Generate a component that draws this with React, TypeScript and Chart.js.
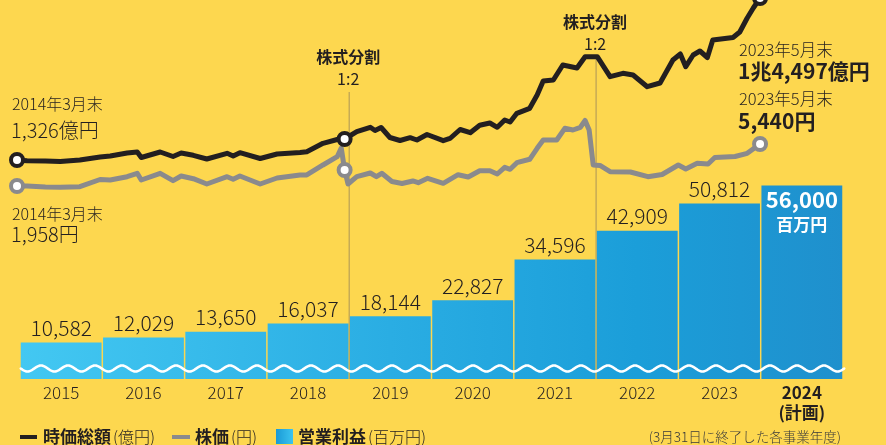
import React, { useEffect, useRef } from 'react';
import { Chart, registerables } from 'chart.js';

Chart.register(...registerables);

// ---------- DATA ----------
const fiscalYears: (string | string[])[] = ['2015', '2016', '2017', '2018', '2019', '2020', '2021', '2022', '2023', ['2024', '(計画)']];
const operatingProfit = [10582, 12029, 13650, 16037, 18144, 22827, 34596, 42909, 50812, 56000]; // 百万円

// months elapsed since 2014年3月末
const capMonths = [0, 1.5, 4.2, 6.4, 9.3, 12.3, 13.8, 16.3, 17.8, 18.4, 21.2, 23.1, 24.3, 26.1, 28.1, 31.1, 32, 33, 36, 38.5, 41.9, 42.9, 45.3, 47.4, 48.5, 50.3, 52.3, 53, 53.9, 55.2, 56.7, 58.2, 59.2, 60.7, 63.1, 64.1, 65.6, 67.1, 68.5, 70, 71.1, 72.2, 73, 74, 75.9, 77, 77.9, 79.4, 80.8, 82.9, 84.1, 85.9, 87.8, 89.7, 91.2, 93.3, 95.2, 97.1, 98.2, 99, 100.1, 101.1, 102.2, 103, 106, 107, 108.1, 109, 110];
const capValues = [1326, 1269, 1245, 1204, 1326, 1570, 1651, 1895, 1976, 1529, 1976, 1611, 1895, 1708, 1407, 1871, 1651, 1919, 1448, 1814, 1936, 2001, 2684, 2993, 3033, 3627, 3985, 3724, 3968, 3155, 2911, 3139, 2952, 3399, 2895, 3074, 3806, 3546, 4147, 4334, 3985, 4578, 4415, 5123, 5529, 6610, 7749, 7830, 9050, 8806, 9724, 9724, 8098, 8375, 8237, 7285, 7586, 9456, 9944, 8911, 9862, 10188, 9659, 11082, 11285, 11732, 12871, 13684, 14497]; // 億円

const priceMonths = [0, 1.5, 4.2, 6.4, 9.3, 12.3, 13.8, 16.3, 17.8, 18.4, 21.2, 23.1, 24.3, 26.1, 28.1, 31.1, 32, 33, 36, 38.5, 41.9, 42.9, 45.3, 47.4, 48, 48.5, 49, 50.3, 52.3, 53.2, 54, 55.5, 57, 58.6, 59.4, 60.8, 63.1, 65.3, 66.8, 68.5, 70, 71.1, 72.2, 73, 74, 75.9, 77, 77.9, 79.9, 81.1, 82.3, 83.4, 84.1, 84.7, 85.3, 86.3, 87.8, 90.8, 93.4, 95.5, 97.9, 99, 100.7, 102.3, 103.3, 106.3, 108.1, 110];
const priceValues = [1958, 1958, 1875, 1850, 1900, 2497, 2456, 2729, 3011, 2456, 3011, 2397, 2787, 2563, 2124, 2729, 2514, 2787, 2124, 2621, 2870, 2870, 3699, 4387, 5108, 3284, 2124, 2729, 3036, 2729, 3011, 2331, 2165, 2373, 2232, 2596, 2182, 2895, 2704, 3226, 3226, 2953, 3508, 3343, 3890, 4172, 5083, 5771, 5771, 6741, 6600, 6824, 7388, 6600, 3699, 3658, 3144, 3119, 2729, 2911, 3699, 3367, 3840, 3782, 4321, 4404, 4669, 5440]; // 円

const capMarkerMonths = [0, 48.5, 110];
const priceMarkerMonths = [0, 48.5, 110];
const splitAfterIndex = [3, 6]; // split between these fiscal-year bars and the next

// ---------- STYLE ----------
const JP = "'Noto Sans CJK JP', 'Noto Sans', sans-serif";
const BG = '#FDD74F';
const INK = '#231F20';
const GRAY = '#8A8A8D';

function txt(ctx: CanvasRenderingContext2D, s: string, x: number, y: number, size: number, weight: string, color: string, align: CanvasTextAlign = 'left') {
  ctx.font = `${weight} ${size}px ${JP}`;
  ctx.fillStyle = color;
  ctx.textAlign = align;
  ctx.textBaseline = 'middle';
  ctx.fillText(s, x, y);
  return ctx.measureText(s).width;
}

function barGradient(ctx: CanvasRenderingContext2D, x0: number, x1: number) {
  const g = ctx.createLinearGradient(x0, 0, x1, 0);
  g.addColorStop(0, '#43C8F2');
  g.addColorStop(0.45, '#2AADE3');
  g.addColorStop(0.75, '#1B9ED9');
  g.addColorStop(1, '#1F90CD');
  return g;
}

const decoPlugin = {
  id: 'deco',
  beforeDatasetsDraw(chart: any) {
    const { ctx, scales } = chart;
    const x = scales.x;
    const tops = [92, 57];
    ctx.save();
    ctx.strokeStyle = '#B9A056';
    ctx.lineWidth = 1.2;
    splitAfterIndex.forEach((i, k) => {
      const px = (x.getPixelForValue(i) + x.getPixelForValue(i + 1)) / 2;
      ctx.beginPath();
      ctx.moveTo(px, tops[k]);
      ctx.lineTo(px, chart.chartArea.bottom);
      ctx.stroke();
      txt(ctx, '株式分割', px - 1, tops[k] - 35, 16, 'bold', INK, 'center');
      txt(ctx, '1:2', px - 1, tops[k] - 13, 16, 'normal', INK, 'center');
    });
    ctx.restore();
  },
  afterDatasetsDraw(chart: any) {
    const { ctx, chartArea } = chart;
    const meta = chart.getDatasetMeta(2);
    const bars = meta.data;
    ctx.save();
    // wave
    const first = bars[0];
    const last = bars[bars.length - 1];
    const left = first.x - first.width / 2;
    const right = last.x + last.width / 2 + 2;
    const y0 = chartArea.bottom - 10.5;
    ctx.beginPath();
    for (let px = left; px <= right; px += 0.5) {
      const y = y0 + 3 * Math.sin(((px - left) / 27) * Math.PI * 2);
      if (px === left) ctx.moveTo(px, y); else ctx.lineTo(px, y);
    }
    ctx.strokeStyle = '#FFFFFF';
    ctx.lineWidth = 2.6;
    ctx.lineCap = 'round';
    ctx.stroke();

    // bar value labels
    bars.forEach((el: any, i: number) => {
      const v = operatingProfit[i].toLocaleString('en-US');
      if (i === bars.length - 1) {
        txt(ctx, v, el.x, el.y + 14.5, 22, 'bold', '#FFFFFF', 'center');
        txt(ctx, '百万円', el.x, el.y + 39.5, 17, 'bold', '#FFFFFF', 'center');
      } else {
        ctx.font = `300 21px ${JP}`;
        ctx.fillStyle = INK;
        ctx.textAlign = 'center';
        ctx.textBaseline = 'alphabetic';
        ctx.fillText(v, el.x, el.y - 6.5);
      }
    });

    // annotations
    txt(ctx, '2014年3月末', 12, 103.5, 16, '300', INK);
    txt(ctx, '1,326億円', 11, 130, 20, '300', INK);
    txt(ctx, '2014年3月末', 12, 213.5, 16, '300', INK);
    txt(ctx, '1,958円', 11, 234, 20, '300', INK);
    txt(ctx, '2023年5月末', 739, 49.5, 16.5, '300', INK);
    txt(ctx, '1兆4,497億円', 738, 71, 21, 'bold', INK);
    txt(ctx, '2023年5月末', 739, 98.5, 16.5, '300', INK);
    txt(ctx, '5,440円', 738, 121, 21, 'bold', INK);

    // legend
    const ly = 437;
    ctx.fillStyle = INK;
    ctx.fillRect(20, ly - 2, 17, 4);
    let w = txt(ctx, '時価総額', 43, ly, 17, 'bold', INK);
    txt(ctx, '(億円)', 43 + w + 2, ly, 16, '300', INK);
    ctx.fillStyle = GRAY;
    ctx.fillRect(172, ly - 2, 18, 4);
    w = txt(ctx, '株価', 195, ly, 17, 'bold', INK);
    txt(ctx, '(円)', 195 + w + 2, ly, 16, '300', INK);
    const sq = ctx.createLinearGradient(276, 0, 293, 0);
    sq.addColorStop(0, '#1A9AD6');
    sq.addColorStop(1, '#3CC4F0');
    ctx.fillStyle = sq;
    ctx.fillRect(276, ly - 8, 17, 15);
    w = txt(ctx, '営業利益', 298, ly, 17, 'bold', INK);
    txt(ctx, '(百万円)', 298 + w + 2, ly, 16, '300', INK);
    txt(ctx, '(3月31日に終了した各事業年度)', 841, ly, 13.5, '300', '#3a3a3a', 'right');
    ctx.restore();
  },
};

export default function App() {
  const ref = useRef<HTMLCanvasElement>(null);

  useEffect(() => {
    document.body.style.margin = '0';
    document.body.style.background = BG;
    const canvas = ref.current;
    if (!canvas) return;

    const capData = capMonths.map((m, i) => ({ x: m, y: capValues[i] }));
    const priceData = priceMonths.map((m, i) => ({ x: m, y: priceValues[i] }));
    const capMarks = new Set(capMarkerMonths.map((m) => capMonths.indexOf(m)));
    const priceMarks = new Set(priceMarkerMonths.map((m) => priceMonths.indexOf(m)));

    const chart = new Chart(canvas, {
      type: 'bar',
      data: {
        labels: fiscalYears as any,
        datasets: [
          {
            type: 'line',
            label: '時価総額',
            data: capData as any,
            xAxisID: 'xm',
            yAxisID: 'yCap',
            borderColor: INK,
            borderWidth: 5,
            borderJoinStyle: 'round',
            borderCapStyle: 'round',
            tension: 0,
            clip: false as any,
            pointRadius: (c: any) => (capMarks.has(c.index) ? 6 : 0),
            pointBorderWidth: 4,
            pointBackgroundColor: '#FFFFFF',
            pointBorderColor: INK,
            order: 1,
          } as any,
          {
            type: 'line',
            label: '株価',
            data: priceData as any,
            xAxisID: 'xm',
            yAxisID: 'yPrice',
            borderColor: GRAY,
            borderWidth: 5,
            borderJoinStyle: 'round',
            borderCapStyle: 'round',
            tension: 0,
            clip: false as any,
            pointRadius: (c: any) => (priceMarks.has(c.index) ? 6 : 0),
            pointBorderWidth: 4,
            pointBackgroundColor: '#FFFFFF',
            pointBorderColor: GRAY,
            order: 2,
          } as any,
          {
            type: 'bar',
            label: '営業利益',
            data: operatingProfit,
            xAxisID: 'x',
            yAxisID: 'y',
            backgroundColor: (c: any) => {
              const { chart: ch } = c;
              const area = ch.chartArea;
              if (!area) return '#2AADE3';
              return barGradient(ch.ctx, area.left, area.right);
            },
            borderWidth: 0,
            grouped: false,
            barPercentage: 0.982,
            categoryPercentage: 1,
            order: 3,
          } as any,
        ],
      },
      options: {
        responsive: true,
        maintainAspectRatio: false,
        animation: false,
        devicePixelRatio: 1,
        events: [],
        layout: { autoPadding: false, padding: { left: 20, right: 43, top: 0, bottom: 19.2 } },
        plugins: { legend: { display: false }, tooltip: { enabled: false } },
        scales: {
          x: {
            type: 'category',
            offset: true,
            grid: { display: false, drawTicks: false } as any,
            border: { display: false },
            ticks: {
              color: INK,
              padding: 3,
              autoSkip: false,
              maxRotation: 0,
              font: (c: any) =>
                c.index === 9
                  ? { family: JP, size: 17, weight: 'bold', lineHeight: 1.2 }
                  : { family: JP, size: 17, weight: '300', lineHeight: 1.2 },
            } as any,
          },
          xm: { type: 'linear', display: false, offset: false, grid: { offset: false }, min: 0.444, max: 122.28 },
          y: { type: 'linear', display: false, min: 0, max: 109700 },
          yCap: { type: 'linear', display: false, min: -16479, max: 14334 },
          yPrice: { type: 'linear', display: false, min: -14042, max: 17377 },
        },
      } as any,
      plugins: [decoPlugin],
    });

    return () => chart.destroy();
  }, []);

  return (
    <div style={{ position: 'relative', width: 886, height: 445, background: BG }}>
      <canvas ref={ref} />
    </div>
  );
}
